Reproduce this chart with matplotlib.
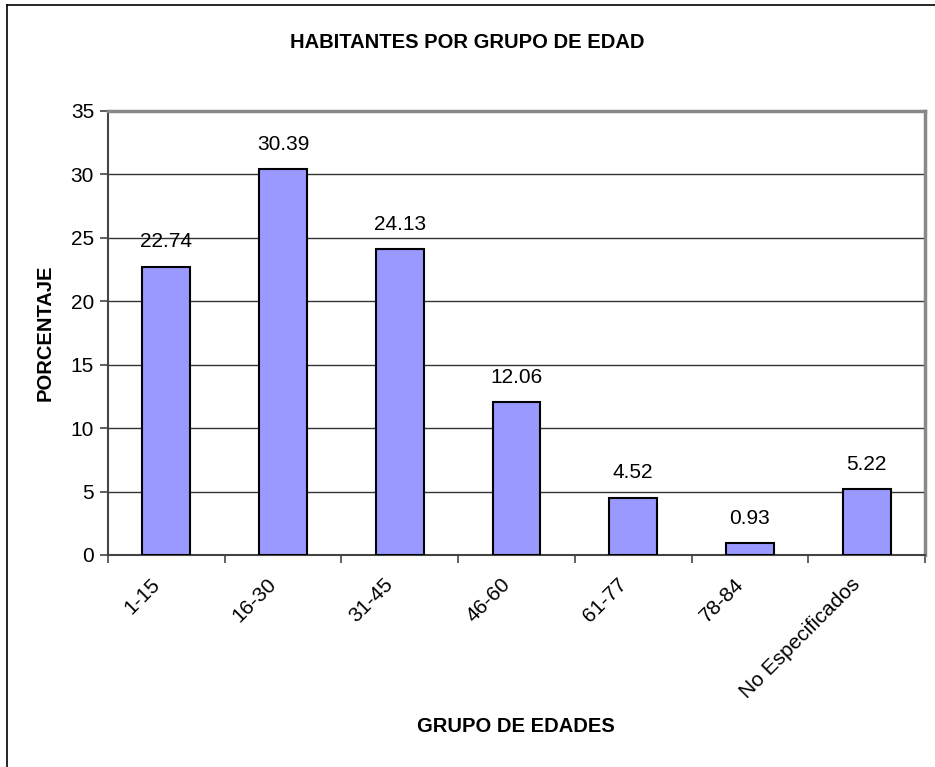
import matplotlib.pyplot as plt
from matplotlib.lines import Line2D
from matplotlib.transforms import ScaledTranslation

plt.rcParams['font.family'] = ['Liberation Sans', 'DejaVu Sans']

# data
grupos = ['1-15', '16-30', '31-45', '46-60', '61-77', '78-84', 'No Especificados']
porcentaje = [22.74, 30.39, 24.13, 12.06, 4.52, 0.93, 5.22]
yticks = [0, 5, 10, 15, 20, 25, 30, 35]

W, H = 935, 767
fig = plt.figure(figsize=(W / 100, H / 100), dpi=100)

# outer chart border (only left and top visible in the reference)
fig.add_artist(Line2D([7 / W, 7 / W], [0, 1 - 5 / H], color='black', lw=1.2))
fig.add_artist(Line2D([7 / W, 1], [1 - 5 / H, 1 - 5 / H], color='black', lw=1.2))

ax = fig.add_axes([108 / W, 1 - 555 / H, (925 - 108) / W, (555 - 111) / H])

x = range(len(grupos))
ax.bar(x, porcentaje, width=0.41, color='#9999FF', edgecolor='black', linewidth=1.5, zorder=3)

for i, v in enumerate(porcentaje):
    ax.annotate(f'{v:.2f}', (i, v), xytext=(0, 11), textcoords='offset points',
                ha='center', va='bottom', fontsize=15)

ax.set_xlim(-0.5, len(grupos) - 0.5)
ax.set_ylim(0, 35)
ax.set_yticks(yticks)
ax.set_yticklabels([str(t) for t in yticks], fontsize=15)
ax.yaxis.grid(True, color='#333333', lw=1)
ax.set_axisbelow(True)

# category boundaries ticks
ax.set_xticks([i + 0.5 for i in range(-1, len(grupos))])
ax.set_xticklabels([])
ax.set_xticks(list(x), minor=True)
ax.set_xticklabels(grupos, minor=True, rotation=45, ha='right', rotation_mode='anchor', fontsize=15)
ax.tick_params(axis='x', which='minor', length=0, pad=14)
ax.tick_params(axis='x', which='major', length=6, color='#444444', width=1.2)
ax.tick_params(axis='y', length=6, color='#444444', width=1.2, pad=4)

shift = ScaledTranslation(-0.16, 0, fig.dpi_scale_trans)
for lbl in ax.get_xticklabels(minor=True):
    lbl.set_transform(lbl.get_transform() + shift)

for side in ['left', 'bottom']:
    ax.spines[side].set_color('#444444')
    ax.spines[side].set_linewidth(1.5)
for side in ['top', 'right']:
    ax.spines[side].set_color('#888888')
    ax.spines[side].set_linewidth(2.5)

fig.text(467 / W, 1 - 42 / H, 'HABITANTES POR GRUPO DE EDAD', ha='center', va='center',
         fontsize=14.5, fontweight='bold')
fig.text(516 / W, 1 - 727 / H, 'GRUPO DE EDADES', ha='center', va='center',
         fontsize=14.5, fontweight='bold')
fig.text(45 / W, 1 - 333 / H, 'PORCENTAJE', ha='center', va='center', rotation=90,
         fontsize=14.5, fontweight='bold')

fig.savefig('out.png', dpi=100)
